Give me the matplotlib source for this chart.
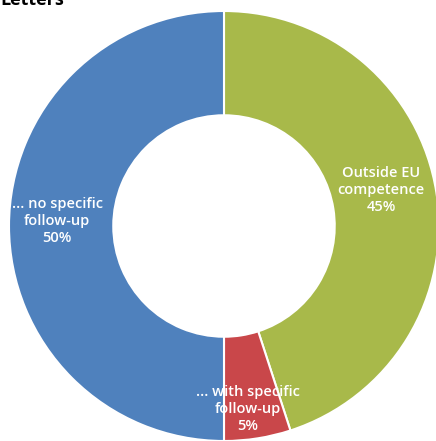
import matplotlib
matplotlib.use("Agg")
import matplotlib.pyplot as plt

title = "Letters"
categories = ["Outside EU\ncompetence", "... with specific\nfollow-up", "... no specific\nfollow-up"]
values = [45, 5, 50]
colors = ["#a8b94a", "#c9474a", "#4f81bd"]

W, H = 436, 441
fig = plt.figure(figsize=(W / 100, H / 100), dpi=100)
ax = fig.add_axes([0, 0, 1, 1])

cx, cy, R = 224, H - 226, 215
wedges, _ = ax.pie(values, colors=colors, startangle=90, counterclock=False,
                   center=(cx, cy), radius=R, frame=True,
                   wedgeprops=dict(width=R * 0.485, edgecolor="white", linewidth=1.5))
ax.set_xlim(0, W)
ax.set_ylim(0, H)
ax.set_aspect("equal")
ax.axis("off")

label_pos = [(381, H - 190), (248, H - 409), (57, H - 221)]
for cat, v, (x, y) in zip(categories, values, label_pos):
    ax.text(x, y, f"{cat}\n{v}%", ha="center", va="center", color="white",
            fontsize=10.5, family="Open Sans", fontweight="semibold", linespacing=1.3)

ax.text(0, H - 5, title, ha="left", va="baseline", fontsize=13,
        fontweight="bold", family="Open Sans")

fig.savefig("out.png", dpi=100)
